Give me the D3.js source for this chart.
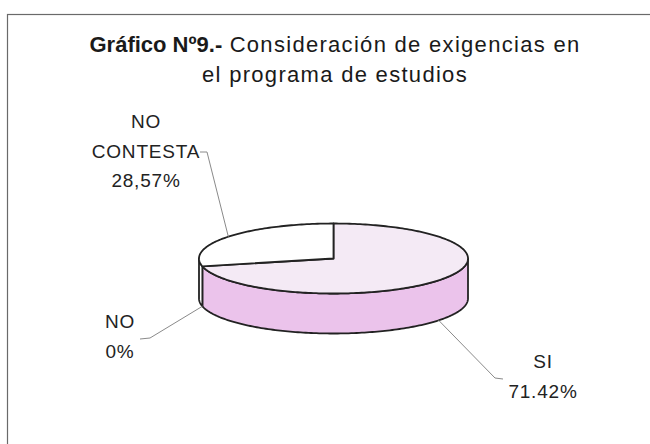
<!DOCTYPE html>
<html>
<head>
<meta charset="utf-8">
<script src="https://cdn.jsdelivr.net/npm/d3@7"></script>
<style>
  body { margin: 0; background: #fff; }
  svg { display: block; font-family: "Liberation Sans", Arial, sans-serif; }
</style>
</head>
<body>
<svg width="650" height="444"></svg>
<script>
// chart data
let categories = ["SI", "NO", "NO CONTESTA"]
let values = [71.42, 0, 28.57]
let valueLabels = ["71.42%", "0%", "28,57%"]
let topColors = ["#f4eaf5", "#ffffff", "#ffffff"]
let sideColors = ["#ebc3eb", "#ffffff", "#ffffff"]
let titleBold = "Gráfico Nº9.-"
let titleRest = " Consideración de exigencias en"
let titleLine2 = "el programa de estudios"

// pie geometry
let cx = 333.5, cy = 258.5, rx = 134.5, ry = 35, depth = 40

// label layout: text centre, first baseline, elbow of leader line, end of leader
let labelLayout = {
  "SI": { x: 543, y: 368, elbow: [495, 378], end: [503, 379] },
  "NO": { x: 120, y: 328, elbow: [150, 338], end: [140, 339] },
  "NO CONTESTA": { x: 146, y: 128, elbow: [207, 152], end: [200, 152] }
}

let svg = d3.select('svg')

// frame
svg.append('rect')
  .attr('x', 7.5).attr('y', 14.5)
  .attr('width', 700).attr('height', 500)
  .attr('fill', 'none')
  .attr('stroke', '#6a6a6a')
  .attr('stroke-width', 1.2)

// title
let t1 = svg.append('text')
  .attr('x', 335).attr('y', 52)
  .attr('text-anchor', 'middle')
  .attr('font-size', 22)
  .attr('fill', '#1a1a1a')
t1.append('tspan').attr('font-weight', 'bold').text(titleBold)
t1.append('tspan').attr('letter-spacing', 1.3).text(titleRest)

svg.append('text')
  .attr('x', 335).attr('y', 82)
  .attr('text-anchor', 'middle')
  .attr('font-size', 22)
  .attr('letter-spacing', 1.3)
  .attr('fill', '#1a1a1a')
  .text(titleLine2)

// pie angles (clockwise from 12 o'clock)
let pie = d3.pie().sort(null).value(d => d.value)
let arcs = pie(categories.map((c, i) => ({ name: c, value: values[i], i: i })))

function pt(a, dy) {
  return [cx + rx * Math.sin(a), cy - ry * Math.cos(a) + (dy || 0)]
}

function arcPoints(a0, a1, dy) {
  let n = Math.max(2, Math.ceil(Math.abs(a1 - a0) / 0.02))
  return d3.range(n + 1).map(k => pt(a0 + (a1 - a0) * k / n, dy))
}

let line = d3.line().curve(d3.curveLinear)

// side walls, only the front half (PI/2 .. 3PI/2) is visible
let walls = svg.append('g')
arcs.forEach(d => {
  let a0 = Math.max(d.startAngle, Math.PI / 2)
  let a1 = Math.min(d.endAngle, 3 * Math.PI / 2)
  if (a1 <= a0) return
  let pts = arcPoints(a0, a1, 0).concat(arcPoints(a1, a0, depth))
  walls.append('path')
    .attr('d', line(pts) + 'Z')
    .attr('fill', sideColors[d.data.i])
    .attr('stroke', '#222')
    .attr('stroke-width', 1.8)
    .attr('stroke-linejoin', 'round')
})

// top faces
let tops = svg.append('g')
arcs.forEach(d => {
  if (d.endAngle - d.startAngle <= 0) return
  let pts = [[cx, cy]].concat(arcPoints(d.startAngle, d.endAngle, 0))
  tops.append('path')
    .attr('d', line(pts) + 'Z')
    .attr('fill', topColors[d.data.i])
    .attr('stroke', '#222')
    .attr('stroke-width', 1.8)
    .attr('stroke-linejoin', 'round')
})

// labels with leader lines
arcs.forEach(d => {
  let mid = (d.startAngle + d.endAngle) / 2
  let front = Math.cos(mid) < 0
  let anchor = pt(mid, front ? depth : 0)
  let lay = labelLayout[d.data.name]

  svg.append('path')
    .attr('d', line([anchor, lay.elbow, lay.end]))
    .attr('fill', 'none')
    .attr('stroke', '#8a8a8a')
    .attr('stroke-width', 1)

  let lines = d.data.name.split(' ').concat([valueLabels[d.data.i]])
  svg.append('g').selectAll('text').data(lines).enter().append('text')
    .attr('x', lay.x)
    .attr('y', (s, k) => lay.y + k * 29.5)
    .attr('text-anchor', 'middle')
    .attr('font-size', 19)
    .attr('letter-spacing', 0.8)
    .attr('fill', '#222')
    .text(s => s)
})
</script>
</body>
</html>
